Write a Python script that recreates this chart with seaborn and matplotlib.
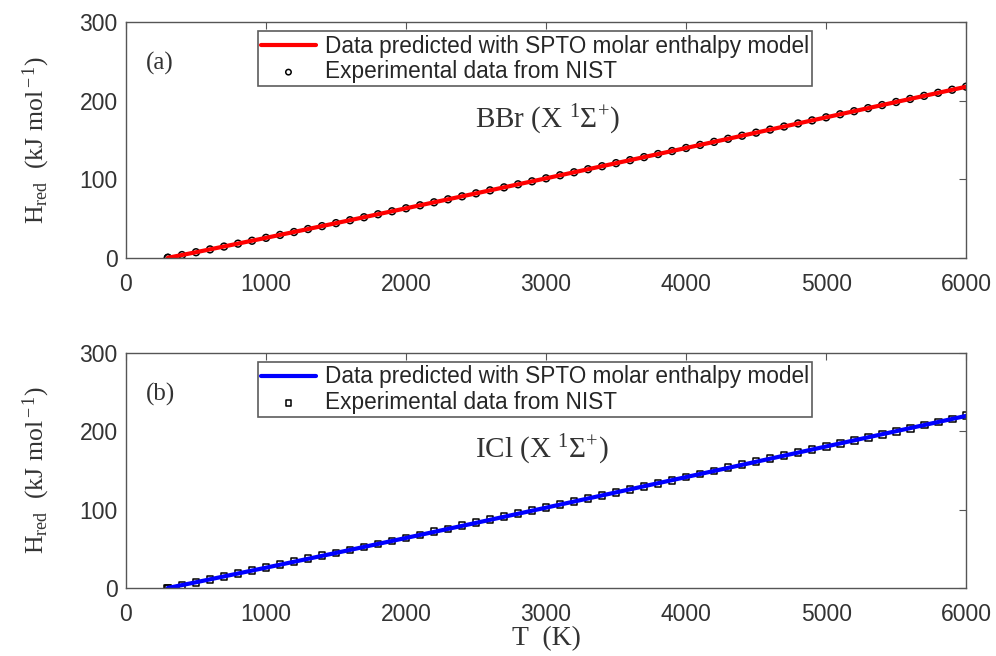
import matplotlib
matplotlib.use("Agg")
import matplotlib.pyplot as plt
import seaborn as sns

# Temperatures (K) of the NIST points
T_exp = [298.15, 300, 400, 500, 600, 700, 800, 900, 1000, 1100, 1200, 1300, 1400, 1500,
         1600, 1700, 1800, 1900, 2000, 2100, 2200, 2300, 2400, 2500, 2600, 2700, 2800,
         2900, 3000, 3100, 3200, 3300, 3400, 3500, 3600, 3700, 3800, 3900, 4000, 4100,
         4200, 4300, 4400, 4500, 4600, 4700, 4800, 4900, 5000, 5100, 5200, 5300, 5400,
         5500, 5600, 5700, 5800, 5900, 6000]

# BBr (X 1Sigma+) reduced enthalpy, kJ/mol
H_bbr_exp = [0.0, 0.06, 3.5, 7.1, 10.7, 14.3, 18.0, 21.7, 25.4, 29.1, 32.8, 36.6, 40.3, 44.1,
             47.8, 51.6, 55.4, 59.2, 63.0, 66.8, 70.6, 74.4, 78.2, 82.0, 85.8, 89.6, 93.5,
             97.3, 101.1, 105.0, 108.8, 112.7, 116.5, 120.4, 124.2, 128.1, 132.0, 135.8,
             139.7, 143.6, 147.5, 151.4, 155.3, 159.2, 163.1, 167.0, 170.9, 174.8, 178.7,
             182.6, 186.5, 190.4, 194.3, 198.2, 202.1, 206.0, 209.9, 213.8, 217.7]

# ICl (X 1Sigma+) reduced enthalpy, kJ/mol
H_icl_exp = [0.0, 0.07, 3.6, 7.3, 11.0, 14.7, 18.4, 22.1, 25.9, 29.6, 33.4, 37.2, 40.9, 44.7,
             48.5, 52.3, 56.1, 60.0, 63.8, 67.6, 71.5, 75.3, 79.2, 83.0, 86.9, 90.7, 94.6,
             98.5, 102.4, 106.3, 110.2, 114.1, 118.0, 121.9, 125.8, 129.7, 133.6, 137.5,
             141.4, 145.3, 149.2, 153.1, 157.0, 160.9, 164.8, 168.7, 172.6, 176.5, 180.4,
             184.3, 188.2, 192.1, 196.0, 199.9, 203.8, 207.7, 211.6, 215.5, 219.5]

# SPTO model curves
T_model = [298.15, 500, 1000, 1500, 2000, 2500, 3000, 3500, 4000, 4500, 5000, 5500, 6000]
H_bbr_model = [0.0, 7.1, 25.4, 44.1, 63.0, 82.0, 101.1, 120.4, 139.7, 159.2, 178.7, 198.2, 217.6]
H_icl_model = [0.0, 7.3, 25.9, 44.7, 63.8, 83.0, 102.4, 121.9, 141.4, 160.9, 180.4, 199.9, 219.4]

panel_tags = ["(a)", "(b)"]
molecules = [r"BBr (X $^1\Sigma^{+}$)", r"ICl (X $^1\Sigma^{+}$)"]

sns.set_theme(style="white")
plt.rcParams["font.family"] = ["Liberation Sans", "DejaVu Sans"]
plt.rcParams["mathtext.fontset"] = "custom"
plt.rcParams["mathtext.rm"] = "Liberation Serif"
plt.rcParams["mathtext.it"] = "Liberation Serif:italic"

fig = plt.figure(figsize=(9.96, 6.56), dpi=100)
ax1 = fig.add_axes([0.1265, 0.607, 0.8435, 0.3595])
ax2 = fig.add_axes([0.1265, 0.1037, 0.8435, 0.3587])

setups = [
    (ax1, H_bbr_model, H_bbr_exp, "red", "o"),
    (ax2, H_icl_model, H_icl_exp, "blue", "s"),
]

serif = "Liberation Serif"
for i, (ax, H_mod, H_exp, col, mk) in enumerate(setups):
    sns.lineplot(x=T_model, y=H_mod, ax=ax, color=col, linewidth=3.0,
                 label="Data predicted with SPTO molar enthalpy model")
    sns.scatterplot(x=T_exp, y=H_exp, ax=ax, marker=mk, s=24, facecolor="none",
                    edgecolor="black", linewidth=1.1,
                    label="Experimental data from NIST")
    ax.set_xlim(0, 6000)
    ax.set_ylim(0, 300)
    ax.set_xticks([0, 1000, 2000, 3000, 4000, 5000, 6000])
    ax.set_yticks([0, 100, 200, 300])
    ax.tick_params(direction="in", length=5, width=0.8, top=True, right=True,
                   labelsize=16.5, colors="#555555", labelcolor="#333333")
    ax.tick_params(axis="x", pad=11)
    ax.tick_params(axis="y", pad=6)
    for sp in ax.spines.values():
        sp.set_color("#555555")
        sp.set_linewidth(1.0)
    ax.set_ylabel(r"H$_{\rm red}$  (kJ mol$^{\rm -1}$)", fontfamily=serif,
                  fontsize=18.5, color="#333333", labelpad=20)
    ax.set_xlabel("")
    ax.text(140, 247, panel_tags[i], fontfamily=serif, fontsize=18, color="#333333",
            va="center")
    ax.text(2490, 176, molecules[i], fontfamily=serif, fontsize=21, color="#333333",
            va="center")
    leg = ax.legend(loc="upper left", bbox_to_anchor=(0.157, 0.96), fontsize=16.3,
                    frameon=True, fancybox=False, borderpad=0.15, labelspacing=0.1,
                    handlelength=2.4, handletextpad=0.4, borderaxespad=0,
                    markerscale=0.8)
    leg.get_frame().set_edgecolor("#333333")
    leg.get_frame().set_linewidth(1.2)

ax2.set_xlabel("T  (K)", fontfamily=serif, fontsize=20, color="#333333", labelpad=0)

fig.savefig("out.png", dpi=100)
